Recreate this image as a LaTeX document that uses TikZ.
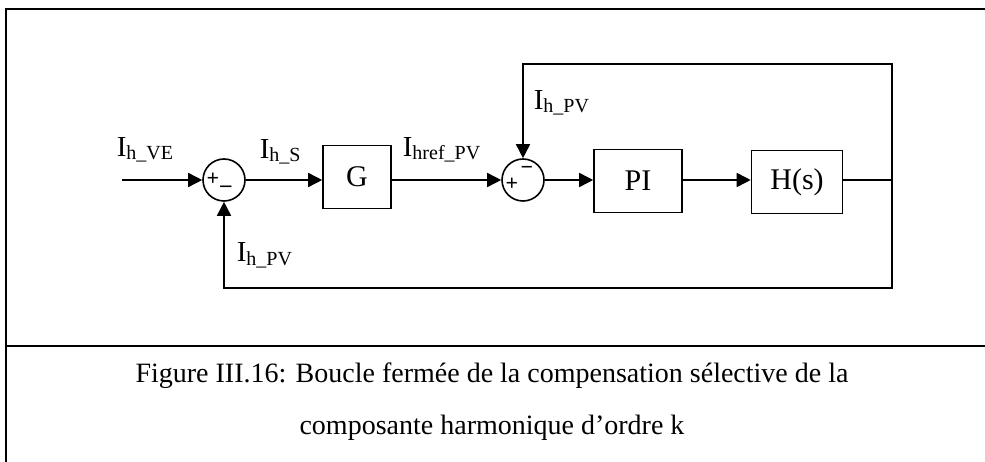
\documentclass[tikz,border=0pt]{standalone}
\usepackage{fontspec}
\setmainfont{Liberation Serif}
\usetikzlibrary{positioning, arrows.meta}
\newcommand{\sig}[1]{I\raisebox{-3pt}{\fontsize{20}{20}\selectfont #1}}

\begin{document}
\begin{tikzpicture}[
        x=1pt, y=-1pt,
        >={Triangle[length=14pt, width=14pt]},
        line width=1.6pt,
        % Styles
        block/.style={rectangle, draw, line width=1.6pt, minimum width=68pt, minimum height=63pt, font=\fontsize{30}{34}\selectfont},
        sum/.style={circle, draw, line width=1.6pt, minimum size=42pt, inner sep=0pt},
        sig_label/.style={anchor=base west, inner sep=0pt, font=\fontsize{29}{32}\selectfont},
        sign/.style={inner sep=0pt, font=\fontsize{22}{22}\selectfont},
        frame/.style={line width=2.2pt},
        caption/.style={align=center, font=\fontsize{28}{52}\selectfont}
    ]
    \useasboundingbox (0,0) rectangle (985,462);

    % 1. FRAME
    \draw[frame] (985,9) -- (6,9) -- (6,462);
    \draw[frame] (6,346) -- (985,346);

    % 2. BLOCKS
    \coordinate (in) at (122,180);
    \node[sum] (sum1) at (224,180) {};
    \node[block] (G) at (357,177) {G};
    \node[sum] (sum2) at (523,180) {};
    \node[block, minimum width=88pt] (PI) at (638,181) {PI};
    \node[block, minimum width=91pt] (H) at (797,182) {H(s)};
    \coordinate (branch) at (892,180);
    \coordinate (fb_top) at (892,64);
    \coordinate (fb_bot) at (892,288);

    % 3. SIGNS
    \node[sign] (sum1_p) at (213,179) {\textbf{+}};
    \node[sign] (sum1_m) at (226,186) {\textbf{\_}};
    \node[sign] (sum2_p) at (512,184) {\textbf{+}};
    \node[sign] (sum2_m) at (527,170) {\textbf{\symbol{"2212}}};

    % 4. SIGNALS
    \draw[->] (in) -- (sum1);
    \draw[->] (sum1) -- (G.west |- sum1);
    \draw[->] (G.east |- sum2) -- (sum2);
    \draw[->] (sum2) -- (PI.west |- sum2);
    \draw[->] (PI.east |- sum2) -- (H.west |- sum2);
    \draw (H.east |- branch) -- (branch);
    \draw[->] (branch) -- (fb_top) -| (sum2.north);
    \draw[->] (branch) -- (fb_bot) -| (sum1.south);

    % 5. LABELS
    \node[sig_label] (lbl_ve) at (116,157) {\sig{h\_VE}};
    \node[sig_label] (lbl_s) at (259,159) {\sig{h\_S}};
    \node[sig_label] (lbl_ref) at (402,157) {\sig{href\_PV}};
    \node[sig_label] (lbl_pv_top) at (533,110) {\sig{h\_PV}};
    \node[sig_label] (lbl_pv_bot) at (236,262) {\sig{h\_PV}};

    % 6. CAPTION
    \node[caption] (cap) at (492,402) {Figure III.16: Boucle fermée de la compensation sélective de la\\composante harmonique d’ordre k};
\end{tikzpicture}
\end{document}
